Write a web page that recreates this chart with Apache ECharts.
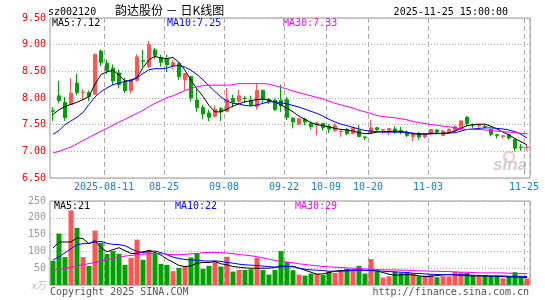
<!DOCTYPE html>
<html>
<head>
<meta charset="utf-8">
<script src="https://cdn.jsdelivr.net/npm/echarts@6/dist/echarts.min.js"></script>
<style>
  html, body { margin: 0; padding: 0; background: #fff; }
  #main { width: 545px; height: 300px; }
</style>
</head>
<body>
<div id="main"></div>
<script>
// trading days shown on the chart
const dates = [
  '2025-07-29','2025-07-30','2025-07-31','2025-08-01','2025-08-04','2025-08-05','2025-08-06','2025-08-07','2025-08-08','2025-08-11',
  '2025-08-12','2025-08-13','2025-08-14','2025-08-15','2025-08-18','2025-08-19','2025-08-20','2025-08-21','2025-08-22','2025-08-25',
  '2025-08-26','2025-08-27','2025-08-28','2025-08-29','2025-09-01','2025-09-02','2025-09-03','2025-09-04','2025-09-05','2025-09-08',
  '2025-09-09','2025-09-10','2025-09-11','2025-09-12','2025-09-15','2025-09-16','2025-09-17','2025-09-18','2025-09-19','2025-09-22',
  '2025-09-23','2025-09-24','2025-09-25','2025-09-26','2025-09-29','2025-09-30','2025-10-09','2025-10-10','2025-10-13','2025-10-14',
  '2025-10-15','2025-10-16','2025-10-17','2025-10-20','2025-10-21','2025-10-22','2025-10-23','2025-10-24','2025-10-27','2025-10-28',
  '2025-10-29','2025-10-30','2025-10-31','2025-11-03','2025-11-04','2025-11-05','2025-11-06','2025-11-07','2025-11-10','2025-11-11',
  '2025-11-12','2025-11-13','2025-11-14','2025-11-17','2025-11-18','2025-11-19','2025-11-20','2025-11-21','2025-11-24','2025-11-25'
]
const tickDates = ['2025-08-11', '2025-08-25', '2025-09-08', '2025-09-22', '2025-10-09', '2025-10-20', '2025-11-03', '2025-11-25']

const opens = [
  7.76, 8.04, 7.92, 7.88, 8.28, 8.10, 8.10, 8.07, 8.88, 8.65,
  8.56, 8.47, 8.31, 8.14, 8.33, 8.70, 8.59, 8.90, 8.76, 8.74,
  8.60, 8.64, 8.34, 8.40, 7.96, 7.82, 7.72, 7.66, 7.80, 7.75,
  7.99, 7.94, 8.00, 7.96, 7.84, 8.14, 7.97, 7.96, 7.96, 7.97,
  7.62, 7.51, 7.60, 7.52, 7.49, 7.52, 7.47, 7.39, 7.37, 7.41,
  7.34, 7.39, 7.27, 7.34, 7.44, 7.40, 7.39, 7.42, 7.39, 7.36,
  7.28, 7.34, 7.27, 7.34, 7.40, 7.30, 7.37, 7.39, 7.42, 7.64,
  7.50, 7.48, 7.47, 7.41, 7.31, 7.28, 7.31, 7.22, 7.08, 7.07
]
const closes = [
  7.75, 7.95, 7.63, 8.09, 8.10, 8.11, 8.03, 8.82, 8.66, 8.51,
  8.32, 8.25, 8.14, 8.32, 8.77, 8.69, 9.00, 8.80, 8.67, 8.62,
  8.66, 8.40, 8.46, 8.00, 7.82, 7.70, 7.64, 7.79, 7.74, 7.97,
  7.92, 8.04, 7.99, 7.87, 8.14, 7.97, 7.93, 7.78, 7.85, 7.64,
  7.55, 7.61, 7.55, 7.46, 7.53, 7.44, 7.42, 7.48, 7.38, 7.33,
  7.44, 7.28, 7.26, 7.44, 7.41, 7.41, 7.43, 7.36, 7.36, 7.30,
  7.34, 7.27, 7.31, 7.41, 7.36, 7.38, 7.41, 7.46, 7.57, 7.52,
  7.49, 7.50, 7.46, 7.32, 7.30, 7.29, 7.25, 7.06, 7.07, 7.08
]
const lows = [
  7.57, 7.90, 7.57, 7.88, 8.05, 7.96, 7.94, 8.06, 8.60, 8.45,
  8.24, 8.18, 8.09, 8.08, 8.31, 8.58, 8.56, 8.73, 8.59, 8.49,
  8.53, 8.34, 8.15, 7.93, 7.74, 7.60, 7.56, 7.63, 7.57, 7.73,
  7.82, 7.91, 7.91, 7.84, 7.78, 7.91, 7.89, 7.76, 7.74, 7.59,
  7.43, 7.49, 7.49, 7.41, 7.30, 7.39, 7.34, 7.36, 7.27, 7.30,
  7.32, 7.26, 7.21, 7.33, 7.36, 7.33, 7.30, 7.33, 7.32, 7.27,
  7.19, 7.22, 7.24, 7.30, 7.32, 7.28, 7.33, 7.36, 7.39, 7.47,
  7.44, 7.42, 7.43, 7.28, 7.24, 7.24, 7.22, 7.00, 7.01, 7.01
]
const highs = [
  7.83, 8.32, 8.02, 8.37, 8.46, 8.17, 8.14, 8.83, 8.91, 8.72,
  8.63, 8.53, 8.38, 8.36, 8.82, 8.90, 9.07, 8.94, 8.81, 8.81,
  8.71, 8.67, 8.47, 8.41, 8.17, 7.87, 7.78, 7.86, 7.83, 8.19,
  8.06, 8.15, 8.04, 8.04, 8.26, 8.16, 8.00, 7.99, 8.25, 8.02,
  7.64, 7.63, 7.63, 7.55, 7.56, 7.53, 7.51, 7.52, 7.39, 7.44,
  7.46, 7.49, 7.28, 7.59, 7.46, 7.41, 7.43, 7.47, 7.46, 7.39,
  7.34, 7.36, 7.33, 7.42, 7.41, 7.41, 7.43, 7.49, 7.58, 7.66,
  7.52, 7.51, 7.50, 7.42, 7.33, 7.31, 7.33, 7.24, 7.14, 7.12
]
// price moving averages
const ma5 = [
  7.69, 7.78, 7.84, 7.88, 7.92, 7.97, 8.03, 8.26, 8.44, 8.49,
  8.52, 8.43, 8.32, 8.32, 8.38, 8.57, 8.72, 8.78, 8.75, 8.74,
  8.76, 8.67, 8.52, 8.33, 8.17, 8.03, 7.86, 7.74, 7.74, 7.79,
  7.85, 7.89, 7.93, 7.95, 7.97, 7.98, 7.96, 7.92, 7.87, 7.81,
  7.74, 7.66, 7.60, 7.54, 7.50, 7.48, 7.46, 7.43, 7.41, 7.40,
  7.38, 7.35, 7.33, 7.34, 7.36, 7.37, 7.37, 7.38, 7.37, 7.36,
  7.33, 7.32, 7.32, 7.33, 7.33, 7.34, 7.35, 7.38, 7.43, 7.48,
  7.50, 7.51, 7.51, 7.47, 7.42, 7.36, 7.31, 7.24, 7.18, 7.12
]
const ma10 = [
  7.32, 7.39, 7.50, 7.57, 7.64, 7.73, 7.88, 8.02, 8.12, 8.19,
  8.25, 8.28, 8.31, 8.34, 8.38, 8.46, 8.53, 8.55, 8.55, 8.56,
  8.60, 8.61, 8.58, 8.52, 8.44, 8.34, 8.23, 8.12, 8.02, 7.94,
  7.90, 7.89, 7.86, 7.85, 7.87, 7.90, 7.93, 7.93, 7.91, 7.89,
  7.86, 7.83, 7.79, 7.75, 7.71, 7.66, 7.60, 7.55, 7.51, 7.48,
  7.45, 7.42, 7.39, 7.38, 7.37, 7.36, 7.36, 7.36, 7.36, 7.35,
  7.34, 7.33, 7.33, 7.34, 7.34, 7.33, 7.34, 7.35, 7.38, 7.41,
  7.42, 7.43, 7.44, 7.44, 7.43, 7.42, 7.40, 7.37, 7.32, 7.25
]
const ma30 = [
  6.97, 7.00, 7.04, 7.08, 7.14, 7.20, 7.26, 7.32, 7.38, 7.43,
  7.49, 7.55, 7.60, 7.66, 7.71, 7.77, 7.84, 7.90, 7.95, 8.01,
  8.04, 8.09, 8.14, 8.18, 8.21, 8.23, 8.24, 8.24, 8.24, 8.24,
  8.25, 8.27, 8.27, 8.27, 8.27, 8.27, 8.26, 8.23, 8.20, 8.17,
  8.13, 8.10, 8.07, 8.04, 8.01, 7.98, 7.94, 7.90, 7.87, 7.84,
  7.81, 7.77, 7.74, 7.71, 7.67, 7.65, 7.64, 7.63, 7.61, 7.59,
  7.56, 7.54, 7.52, 7.50, 7.49, 7.47, 7.46, 7.44, 7.42, 7.41,
  7.41, 7.41, 7.40, 7.39, 7.38, 7.37, 7.36, 7.35, 7.34, 7.33
]
// volume, x10k
const volumes = [
  72, 153, 83, 222, 170, 83, 57, 162, 126, 92,
  101, 93, 60, 81, 135, 75, 105, 94, 63, 60,
  41, 51, 55, 82, 94, 48, 57, 70, 55, 84,
  40, 45, 45, 47, 81, 45, 31, 45, 101, 69,
  44, 31, 28, 34, 34, 30, 40, 36, 41, 48,
  44, 57, 34, 77, 41, 22, 26, 40, 36, 38,
  34, 26, 28, 31, 23, 26, 26, 39, 38, 36,
  28, 28, 26, 26, 26, 20, 26, 38, 24, 20
]
const volMa5 = [
  110, 128, 128, 128, 140, 138, 123, 132, 111, 99,
  105, 111, 102, 94, 94, 99, 102, 97, 89, 77,
  68, 58, 55, 57, 65, 67, 67, 70, 63, 60,
  55, 53, 51, 50, 50, 50, 50, 52, 57, 55,
  56, 50, 44, 38, 32, 33, 37, 41, 43, 44,
  45, 45, 44, 44, 42, 37, 32, 29, 30, 31,
  30, 27, 25, 26, 28, 30, 31, 30, 29, 28,
  27, 27, 26, 26, 26, 25, 24, 24, 23, 22
]
const volMa10 = [
  74, 84, 96, 108, 120, 123, 124, 128, 130, 124,
  121, 120, 117, 108, 100, 96, 100, 101, 96, 90,
  83, 79, 76, 74, 74, 72, 71, 72, 70, 67,
  65, 62, 60, 59, 58, 56, 55, 53, 54, 55,
  54, 50, 47, 45, 44, 43, 41, 41, 41, 42,
  43, 43, 43, 43, 42, 41, 40, 39, 38, 37,
  35, 34, 33, 32, 31, 31, 31, 31, 30, 30,
  29, 28, 28, 27, 27, 27, 26, 26, 26, 25
]
const volMa30 = [
  44, 46, 49, 53, 57, 60, 64, 67, 72, 76,
  80, 83, 86, 88, 90, 92, 93, 94, 93, 92,
  90, 90, 91, 93, 94, 96, 97, 97, 96, 95,
  93, 91, 89, 87, 84, 81, 77, 73, 70, 68,
  66, 63, 61, 59, 57, 55, 54, 53, 52, 51,
  50, 49, 48, 47, 46, 45, 45, 45, 44, 44,
  43, 42, 42, 41, 41, 40, 40, 39, 38, 38,
  37, 36, 36, 36, 36, 36, 35, 35, 34, 34
]

const UP = '#ff5555'
const DOWN = '#00a000'
const MONO = '"DejaVu Sans Mono", monospace'

const kdata = opens.map((o, i) => [o, closes[i], lows[i], highs[i]])
const isTick = (idx, val) => tickDates.indexOf(val) >= 0

const chart = echarts.init(document.getElementById('main'))

const splitX = { show: true, interval: isTick, lineStyle: { color: '#aaa', type: [5, 3], width: 1 } }
const splitY = { show: true, lineStyle: { color: '#aaa', type: [1, 2], width: 1 } }

function label(text, x, y, color, opts) {
  return Object.assign({
    type: 'text', x: x, y: y, silent: true,
    style: { text: text, fill: color, font: '10px ' + MONO, textAlign: 'left', textVerticalAlign: 'middle' }
  }, opts || {})
}

const option = {
  animation: false,
  grid: [
    { left: 50, top: 18, width: 480, height: 160, show: true, borderColor: '#999', borderWidth: 1 },
    { left: 50, top: 201, width: 480, height: 84, show: true, borderColor: '#999', borderWidth: 1 }
  ],
  xAxis: [
    {
      type: 'category', gridIndex: 0, data: dates, boundaryGap: true,
      axisLine: { show: false }, axisTick: { show: false },
      axisLabel: {
        interval: isTick, margin: 4, padding: [0, 6, 0, 0],
        color: '#1a80cc', fontFamily: MONO, fontSize: 10,
        formatter: v => v === '2025-08-11' ? v : v.slice(5)
      },
      splitLine: splitX
    },
    {
      type: 'category', gridIndex: 1, data: dates, boundaryGap: true,
      axisLine: { show: false }, axisTick: { show: false }, axisLabel: { show: false },
      splitLine: splitX
    }
  ],
  yAxis: [
    {
      type: 'value', gridIndex: 0, min: 6.5, max: 9.5, interval: 0.5,
      axisLine: { show: false }, axisTick: { show: false },
      axisLabel: { color: '#ff0000', fontFamily: MONO, fontSize: 10, margin: 4, formatter: v => v.toFixed(2) },
      splitLine: splitY
    },
    {
      type: 'value', gridIndex: 1, min: 0, max: 250, interval: 50,
      axisLine: { show: false }, axisTick: { show: false },
      axisLabel: {
        color: '#999', fontFamily: MONO, fontSize: 10, margin: 4,
        formatter: v => v === 0 ? '{u|x万}' : String(v),
        rich: { u: { color: '#bbb', fontSize: 10, fontStyle: 'italic', fontFamily: 'Noto Sans CJK SC' } }
      },
      splitLine: splitY
    }
  ],
  series: [
    {
      type: 'candlestick', xAxisIndex: 0, yAxisIndex: 0, data: kdata, barWidth: 4,
      itemStyle: { color: UP, color0: DOWN, borderColor: UP, borderColor0: DOWN, borderWidth: 1 }
    },
    { type: 'line', xAxisIndex: 0, yAxisIndex: 0, data: ma5, symbol: 'none', lineStyle: { color: '#000', width: 1 }, z: 5 },
    { type: 'line', xAxisIndex: 0, yAxisIndex: 0, data: ma10, symbol: 'none', lineStyle: { color: '#0000ff', width: 1 }, z: 5 },
    { type: 'line', xAxisIndex: 0, yAxisIndex: 0, data: ma30, symbol: 'none', lineStyle: { color: '#ff00ff', width: 1 }, z: 5 },
    {
      type: 'bar', xAxisIndex: 1, yAxisIndex: 1, data: volumes, barWidth: 5,
      itemStyle: { color: p => closes[p.dataIndex] >= opens[p.dataIndex] ? UP : DOWN }
    },
    { type: 'line', xAxisIndex: 1, yAxisIndex: 1, data: volMa5, symbol: 'none', lineStyle: { color: '#000', width: 1 }, z: 5 },
    { type: 'line', xAxisIndex: 1, yAxisIndex: 1, data: volMa10, symbol: 'none', lineStyle: { color: '#0000ff', width: 1 }, z: 5 },
    { type: 'line', xAxisIndex: 1, yAxisIndex: 1, data: volMa30, symbol: 'none', lineStyle: { color: '#ff00ff', width: 1 }, z: 5 }
  ],
  graphic: [
    label('sz002120', 48, 12, '#000'),
    { type: 'text', x: 115, y: 10, silent: true,
      style: { text: '韵达股份 － 日K线图', fill: '#000', font: '12px "Noto Sans CJK SC"', textAlign: 'left', textVerticalAlign: 'middle' } },
    label('2025-11-25 15:00:00', 508, 12, '#000', {}),
    label('MA5:7.12', 52, 23.5, '#000'),
    label('MA10:7.25', 167, 23.5, '#0000ff'),
    label('MA30:7.33', 283, 23.5, '#ff00ff'),
    label('MA5:21', 54, 206, '#000'),
    label('MA10:22', 175, 206, '#0000ff'),
    label('MA30:29', 295, 206, '#ff00ff'),
    label('Copyright 2025 SINA.COM', 50, 292.5, '#555'),
    label('http://finance.sina.com.cn', 529, 292.5, '#555'),
    { type: 'circle', silent: true, shape: { cx: 509, cy: 157, r: 5 }, style: { fill: 'none', stroke: '#f2c4c4', lineWidth: 2 } },
    { type: 'text', x: 527, y: 165, silent: true,
      style: { text: 'sina', fill: '#cfcfcf', font: 'italic bold 17px "Liberation Sans"', textAlign: 'right', textVerticalAlign: 'middle' } }
  ]
}
// right-aligned header and footer texts
option.graphic[2].style.textAlign = 'right'
option.graphic[10].style.textAlign = 'right'

chart.setOption(option)
</script>
</body>
</html>
